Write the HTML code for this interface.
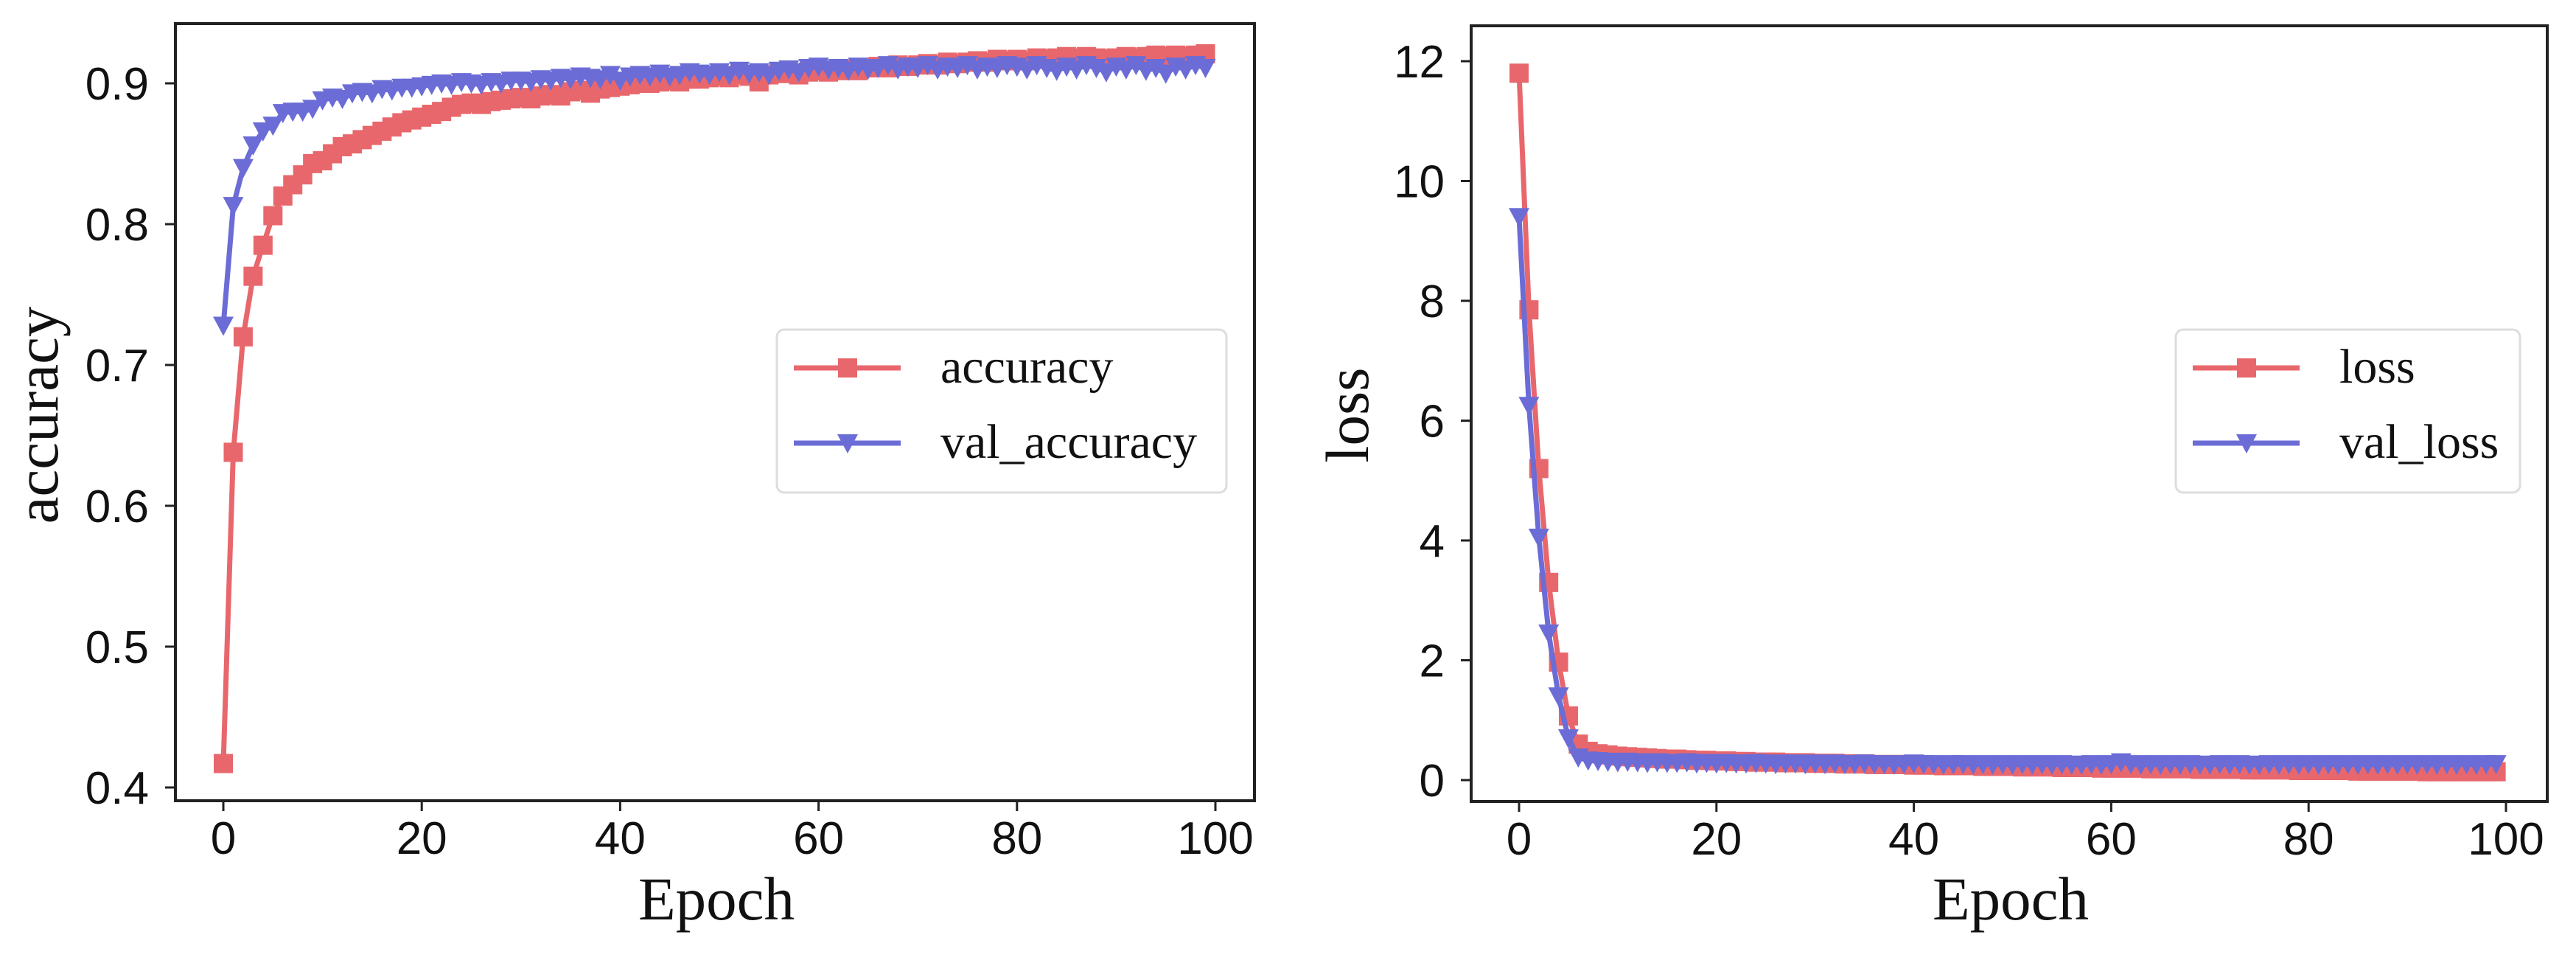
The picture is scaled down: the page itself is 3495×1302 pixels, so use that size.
<!DOCTYPE html>
<html><head><meta charset="utf-8"><style>html,body{margin:0;padding:0;background:#fff}svg{display:block}</style></head>
<body>
<svg id="fig" xmlns="http://www.w3.org/2000/svg" width="3495" height="1302" viewBox="0 0 3495 1302">
<rect width="3495" height="1302" fill="#fff"/>
<g id="left"></g>
<g id="right"></g>
</svg>
<script>
const epochs = Array.from({length:100},(_, i)=>i);
const accuracy = [.417,.638,.720,.763,.785,.806,.820,.828,.835,.843,
.845,.850,.855,.857,.860,.863,.866,.869,.872,.874,
.876,.878,.880,.883,.885,.886,.885,.887,.888,.889,
.890,.889,.891,.892,.891,.894,.895,.893,.896,.897,
.898,.899,.900,.900,.901,.902,.901,.903,.903,.904,
.905,.904,.906,.905,.901,.906,.907,.907,.906,.908,
.909,.908,.909,.910,.909,.911,.912,.911,.913,.912,
.913,.914,.913,.915,.914,.915,.916,.915,.917,.916,
.917,.916,.918,.917,.918,.919,.918,.919,.918,.917,
.918,.919,.918,.919,.920,.919,.920,.919,.920,.921];
const valAccuracy = [.728,.813,.840,.856,.866,.870,.879,.880,.880,.882,
.888,.890,.889,.893,.894,.893,.896,.895,.897,.897,
.898,.899,.900,.899,.901,.900,.899,.901,.900,.902,
.902,.901,.903,.902,.904,.903,.905,.904,.903,.906,
.902,.905,.906,.905,.907,.905,.906,.908,.907,.906,
.908,.906,.909,.907,.908,.906,.909,.910,.908,.911,
.912,.910,.911,.909,.912,.910,.911,.913,.910,.912,
.911,.913,.910,.912,.911,.913,.910,.912,.911,.913,
.912,.910,.913,.911,.909,.912,.910,.913,.911,.908,
.912,.910,.913,.909,.911,.907,.912,.910,.913,.911];
const loss = [11.8,7.85,5.2,3.3,1.97,1.07,0.60,0.48,0.44,0.42,
.40,.39,.38,.37,.36,.35,.35,.34,.33,.33,
.32,.32,.31,.31,.30,.30,.30,.29,.29,.29,
.28,.28,.28,.27,.27,.27,.26,.26,.26,.26,
.25,.25,.25,.24,.24,.24,.24,.23,.23,.23,
.23,.22,.22,.22,.22,.21,.21,.21,.21,.20,
.20,.20,.20,.20,.19,.19,.19,.19,.19,.18,
.18,.18,.18,.18,.17,.17,.17,.17,.17,.16,
.16,.16,.16,.16,.16,.15,.15,.15,.15,.15,
.15,.15,.14,.14,.14,.14,.14,.14,.14,.14];
const valLoss = [9.4,6.25,4.05,2.45,1.40,0.70,0.38,0.33,0.32,0.31,
.30,.31,.30,.29,.30,.29,.29,.30,.28,.29,
.28,.29,.28,.28,.29,.28,.27,.28,.28,.27,
.28,.27,.28,.27,.27,.28,.27,.27,.26,.27,
.28,.27,.27,.26,.27,.27,.26,.27,.26,.27,
.26,.27,.26,.27,.26,.27,.26,.26,.27,.26,
.27,.30,.27,.26,.27,.26,.27,.26,.27,.26,
.26,.27,.26,.27,.26,.26,.27,.26,.27,.26,
.27,.26,.27,.26,.27,.26,.27,.26,.27,.26,
.27,.26,.27,.26,.27,.26,.27,.26,.27,.27];
const xTicks = [0,20,40,60,80,100];
const accTicks = [0.4,0.5,0.6,0.7,0.8,0.9];
const accTickLabels = ["0.4","0.5","0.6","0.7","0.8","0.9"];
const lossTicks = [0,2,4,6,8,10,12];
const lossTickLabels = ["0","2","4","6","8","10","12"];

const NS='http://www.w3.org/2000/svg';
const RED='#e8676c', BLUE='#6b6cd6';
function mk(parent,tag,attrs){const e=document.createElementNS(NS,tag);for(const k in attrs)e.setAttribute(k,attrs[k]);parent.appendChild(e);return e;}

function chart(g,cfg){
  const xs=v=>cfg.x0+(v-0)*(cfg.x100-cfg.x0)/100;
  const ys=v=>cfg.yA+(v-cfg.vA)*(cfg.yB-cfg.yA)/(cfg.vB-cfg.vA);
  cfg.series.forEach(s=>{
    const sg=mk(g,'g',{});
    
    
    const pts=epochs.map(i=>xs(i).toFixed(1)+','+ys(s.data[i]).toFixed(1)).join(' ');
    const pl=mk(sg,'polyline',{points:pts,fill:'none',stroke:s.color,'stroke-width':7,'stroke-linejoin':'round'});
    
    
    epochs.forEach(i=>{
      const cx=xs(i), cy=ys(s.data[i]);
      let m;
      if(s.marker==='square'){m=mk(sg,'rect',{x:cx-13,y:cy-13,width:26,height:26,fill:s.color});}
      else{m=mk(sg,'path',{d:`M${cx-14},${cy-12}L${cx+14},${cy-12}L${cx},${cy+14}Z`,fill:s.color});}
      
      
    });
  });
  const fr=mk(g,'rect',{x:cfg.L,y:cfg.T,width:cfg.R-cfg.L,height:cfg.B-cfg.T,fill:'none',stroke:'#222','stroke-width':4});
  
  
  xTicks.forEach(t=>{
    const x=xs(t);
    const tl=mk(g,'line',{x1:x,y1:cfg.B,x2:x,y2:cfg.B+14,stroke:'#222','stroke-width':3});
    
    
    const tx=mk(g,'text',{x:x,y:cfg.B+72,'text-anchor':'middle','font-family':'Liberation Sans, sans-serif','font-size':62,fill:'#111'});
    tx.textContent=t;
    
    
  });
  cfg.yTicks.forEach((t,i)=>{
    const y=ys(t);
    const tl=mk(g,'line',{x1:cfg.L-14,y1:y,x2:cfg.L,y2:y,stroke:'#222','stroke-width':3});
    
    
    const tx=mk(g,'text',{x:cfg.L-36,y:y+22,'text-anchor':'end','font-family':'Liberation Sans, sans-serif','font-size':62,fill:'#111'});
    tx.textContent=cfg.yLabels[i];
    
    
  });
  const xl=mk(g,'text',{x:(cfg.L+cfg.R)/2+2,y:1247,'text-anchor':'middle','font-family':'Liberation Serif, serif','font-size':83,fill:'#111'});
  xl.textContent='Epoch';
  
  
  const yl=mk(g,'text',{x:0,y:0,'text-anchor':'middle','font-family':'Liberation Serif, serif','font-size':83,fill:'#111',transform:`translate(${cfg.ylx},${cfg.yly}) rotate(-90)`});
  yl.textContent=cfg.yTitle;
  
  
  const lg=mk(g,'g',{});
  
  
  const lb=mk(lg,'rect',{x:cfg.lgX,y:447,width:cfg.lgW,height:221,rx:10,fill:'#fff',stroke:'#ddd','stroke-width':3});
  
  
  cfg.series.forEach((s,k)=>{
    const y=499+k*102, hx=cfg.lgX+23;
    const e=mk(lg,'g',{});
    
    
    mk(e,'line',{x1:hx,y1:y,x2:hx+145,y2:y,stroke:s.color,'stroke-width':7});
    const cx=hx+73;
    if(s.marker==='square') mk(e,'rect',{x:cx-13,y:y-13,width:26,height:26,fill:s.color});
    else mk(e,'path',{d:`M${cx-14},${y-12}L${cx+14},${y-12}L${cx},${y+14}Z`,fill:s.color});
    const t=mk(e,'text',{x:hx+199,y:y+20,'font-family':'Liberation Serif, serif','font-size':66,fill:'#111'});
    t.textContent=s.name;
  });
}

chart(document.getElementById('left'),{
  L:238,R:1702,T:32,B:1086,x0:303,x100:1649,
  vA:0.9,yA:113,vB:0.4,yB:1068,
  yTicks:accTicks,yLabels:accTickLabels,yTitle:'accuracy',ylx:78,yly:563,
  lgX:1054,lgW:610,
  series:[{name:'accuracy',data:accuracy,color:RED,marker:'square'},{name:'val_accuracy',data:valAccuracy,color:BLUE,marker:'tri'}]
});
chart(document.getElementById('right'),{
  L:1996,R:3456,T:35,B:1087,x0:2061,x100:3400,
  vA:12,yA:83,vB:0,yB:1058,
  yTicks:lossTicks,yLabels:lossTickLabels,yTitle:'loss',ylx:1856,yly:563,
  lgX:2952,lgW:467,
  series:[{name:'loss',data:loss,color:RED,marker:'square'},{name:'val_loss',data:valLoss,color:BLUE,marker:'tri'}]
});
</script>
</body></html>
